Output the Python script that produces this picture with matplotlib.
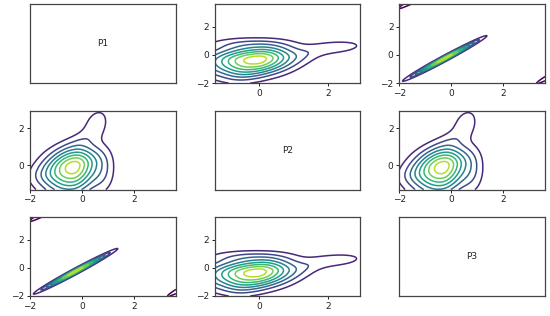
import matplotlib
matplotlib.use("Agg")
import matplotlib.pyplot as plt
import numpy as np

# panel labels on the diagonal
diag_labels = ["P1", "P2", "P3"]

# axis range of each variable
var_limits = [(-2.0, 3.6), (-1.3, 2.95), (-2.0, 3.6)]

# blobs:
# (mx, my, sx_left, sx_right, sy_down, sy_up, rho, weight)
# density of (var1, var2); reused for (var3, var2)
blobs_12 = [
    (-0.31, -0.05, 0.75, 0.60, 1.00, 0.70, 0.20, 1.00),
    (0.05, 1.45, 0.55, 0.55, 0.50, 0.50, 0.60, 0.10),
    (0.55, 2.35, 0.35, 0.35, 0.55, 0.55, 0.30, 0.17),
    (0.80, -0.30, 0.35, 0.35, 0.90, 0.90, 0.00, 0.17),
    (-1.40, -0.50, 0.50, 0.50, 0.40, 0.40, 0.20, 0.12),
]
# density of (var1, var3)
blobs_13 = [
    (-0.25, -0.25, 0.78, 0.78, 0.78, 0.78, 0.9876, 1.00),
]
# wrap-around copies of the (var1, var3) ridge seen in the corners
wrap_13 = [
    (-0.40, 4.90, 0.78, 0.78, 0.78, 0.78, 0.9876, 1.00),
    (4.90, -0.40, 0.78, 0.78, 0.78, 0.78, 0.9876, 1.00),
]

# contour levels as share of the peak
level_share = [0.116, 0.233, 0.349, 0.465, 0.581, 0.698, 0.814, 0.930]


def density(blobs, x, y):
    z = np.zeros_like(x)
    for mx, my, sxl, sxr, syd, syu, rho, w in blobs:
        dx = (x - mx) / np.where(x < mx, sxl, sxr)
        dy = (y - my) / np.where(y < my, syd, syu)
        q = (dx ** 2 - 2 * rho * dx * dy + dy ** 2) / (1 - rho ** 2)
        z += w * np.exp(-0.5 * q)
    return z


def field(blobs, xlim, ylim, swap):
    gx = np.linspace(*xlim, 400)
    gy = np.linspace(*ylim, 400)
    X, Y = np.meshgrid(gx, gy)
    Z = density(blobs, Y, X) if swap else density(blobs, X, Y)
    return X, Y, Z


def draw_kde(ax, blobs, xlim, ylim, swap=False, wrap=None):
    X, Y, Z = field(blobs, xlim, ylim, swap)
    peak = Z.max()
    levels = [s * peak for s in level_share]
    colors = plt.cm.viridis(np.arange(1, len(levels) + 1) / (len(levels) + 1))
    ax.contour(X, Y, Z, levels=levels, colors=colors, linewidths=1.1)
    if wrap:
        X, Y, W = field(wrap, xlim, ylim, swap)
        ax.contour(X, Y, W, levels=[level_share[0] * peak],
                   colors=[plt.cm.viridis(0.0)], linewidths=1.1)


# which density each panel uses: (blobs, swap x/y, corner copies)
panel_kde = {
    (0, 1): (blobs_12, True, None),
    (0, 2): (blobs_13, False, wrap_13),
    (1, 0): (blobs_12, False, None),
    (1, 2): (blobs_12, False, None),
    (2, 0): (blobs_13, False, wrap_13),
    (2, 1): (blobs_12, True, None),
}

fig, axes = plt.subplots(3, 3, figsize=(5.5, 3.16), dpi=100)
fig.subplots_adjust(left=0.0545, right=0.991, bottom=0.0633, top=0.987,
                    wspace=0.265, hspace=0.347)

for i in range(3):
    for j in range(3):
        ax = axes[i, j]
        for s in ax.spines.values():
            s.set_color("#444444")
            s.set_linewidth(0.9)
        if i == j:
            ax.set_xticks([])
            ax.set_yticks([])
            ax.text(0.5, 0.5, diag_labels[i], transform=ax.transAxes,
                    ha="center", va="center", fontsize=6.5, color="#222222")
            continue
        xlim = var_limits[j]
        ylim = var_limits[i]
        blobs, swap, wrap = panel_kde[(i, j)]
        draw_kde(ax, blobs, xlim, ylim, swap, wrap)
        ax.set_xlim(xlim)
        ax.set_ylim(ylim)
        ax.set_xticks([t for t in (-2, 0, 2) if xlim[0] - 0.01 <= t <= xlim[1]])
        ax.set_yticks([t for t in (-2, 0, 2) if ylim[0] - 0.01 <= t <= ylim[1]])
        ax.tick_params(labelsize=6.5, length=2.5, width=0.7, pad=1.5,
                       colors="#222222")

fig.savefig("out.png", dpi=100)
